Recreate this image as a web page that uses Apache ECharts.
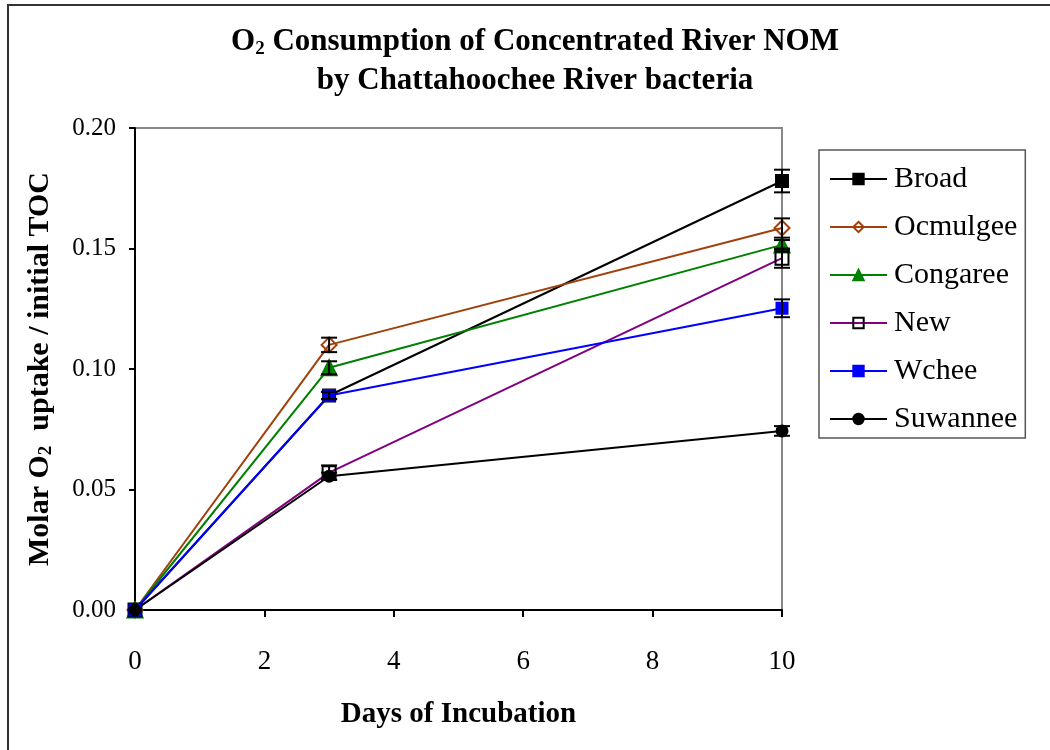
<!DOCTYPE html>
<html><head><meta charset="utf-8">
<script src="https://cdn.jsdelivr.net/npm/echarts@6/dist/echarts.min.js"></script>
<style>html,body{margin:0;padding:0;background:#fff}#c{width:1050px;height:750px}</style>
</head><body><div id="c"></div>
<script>
const days = [0, 3, 10];
const seriesNames = ['Broad', 'Ocmulgee', 'Congaree', 'New', 'Wchee', 'Suwannee'];
const broad    = [0, 0.089, 0.178];
const ocmulgee = [0, 0.110, 0.1585];
const congaree = [0, 0.1005, 0.1515];
const newR     = [0, 0.057, 0.146];
const wchee    = [0, 0.089, 0.1252];
const suwannee = [0, 0.0555, 0.0743];
const broadErr    = [0, 0.0015, 0.0047];
const ocmulgeeErr = [0, 0.0030, 0.0040];
const congareeErr = [0, 0.0027, 0.0020];
const newErr      = [0, 0.0030, 0.0040];
const wcheeErr    = [0, 0.0015, 0.0037];
const suwanneeErr = [0, 0.0015, 0.0020];
const yTicks = ['0.00', '0.05', '0.10', '0.15', '0.20'];
const xTicks = ['0', '2', '4', '6', '8', '10'];

const values = [broad, ocmulgee, congaree, newR, wchee, suwannee];
const errs = [broadErr, ocmulgeeErr, congareeErr, newErr, wcheeErr, suwanneeErr];
const styles = [
  {line:'#000000', symbol:'rect', size:12, fill:'#000000', border:'#000000'},
  {line:'#A0400A', symbol:'diamond', size:15, fill:'rgba(255,255,255,0)', border:'#A0400A'},
  {line:'#008000', symbol:'triangle', size:15, fill:'#008000', border:'#008000'},
  {line:'#800080', symbol:'rect', size:13, fill:'rgba(255,255,255,0)', border:'#000000'},
  {line:'#0000FF', symbol:'rect', size:11, fill:'#0000FF', border:'#0000FF'},
  {line:'#000000', symbol:'circle', size:11, fill:'#000000', border:'#000000'}
];
const serif = "'Liberation Serif', 'DejaVu Serif', serif";

const series = [];
seriesNames.forEach((n, i) => {
  const st = styles[i];
  series.push({
    name: n, type: 'line', z: 3,
    data: days.map((d, k) => [d, values[i][k]]),
    symbol: st.symbol, symbolSize: st.size,
    lineStyle: {color: st.line, width: 2},
    itemStyle: {color: st.fill, borderColor: st.border, borderWidth: 2},
    emphasis: {disabled: true}
  });
});
seriesNames.forEach((n, i) => {
  series.push({
    type: 'custom', z: 4, silent: true,
    data: days.map((d, k) => [d, values[i][k], errs[i][k]]),
    renderItem: function (params, api) {
      const x = api.value(0), y = api.value(1), e = api.value(2);
      if (!e) return null;
      const top = api.coord([x, y + e]);
      const bot = api.coord([x, y - e]);
      const hw = 8;
      const s = {stroke: '#000', lineWidth: 2};
      return {type: 'group', children: [
        {type: 'line', shape: {x1: top[0], y1: top[1], x2: bot[0], y2: bot[1]}, style: s},
        {type: 'line', shape: {x1: top[0]-hw, y1: top[1], x2: top[0]+hw, y2: top[1]}, style: s},
        {type: 'line', shape: {x1: bot[0]-hw, y1: bot[1], x2: bot[0]+hw, y2: bot[1]}, style: s}
      ]};
    }
  });
});

const chart = echarts.init(document.getElementById('c'), null, {renderer: 'canvas'});
chart.setOption({
  animation: false,
  backgroundColor: '#fff',
  grid: {left: 135, top: 128, right: 268, bottom: 140, show: true, borderColor: '#888', borderWidth: 2, backgroundColor: '#fff'},
  graphic: [
    {type: 'rect', shape: {x: 8, y: 5, width: 1046, height: 750}, style: {fill: 'none', stroke: '#333', lineWidth: 2}, z: 100},
    {type: 'text', x: 535, y: 42, style: {
      text: '{a|O}{s|2}{a| Consumption of Concentrated River NOM}',
      align: 'center', verticalAlign: 'middle',
      rich: {a: {fontFamily: serif, fontWeight: 'bold', fontSize: 31, fill: '#000'},
             s: {fontFamily: serif, fontWeight: 'bold', fontSize: 19, fill: '#000', padding: [15, 0, 0, 0]}}
    }},
    {type: 'text', x: 535, y: 81, style: {
      text: 'by Chattahoochee River bacteria', align: 'center', verticalAlign: 'middle',
      font: "bold 31px " + serif, fill: '#000'
    }}
  ],
  legend: {
    orient: 'vertical', left: 819, top: 150, width: 205,
    padding: [14, 8, 4, 10],
    borderColor: '#555', borderWidth: 1.5,
    itemWidth: 57, itemHeight: 13, itemGap: 18,
    data: seriesNames,
    textStyle: {fontFamily: serif, fontSize: 30, color: '#000', padding: [0, 0, 0, 2]}
  },
  xAxis: {
    type: 'value', min: 0, max: 10, interval: 2,
    name: 'Days of Incubation', nameLocation: 'middle', nameGap: 90,
    nameTextStyle: {fontFamily: serif, fontWeight: 'bold', fontSize: 29, color: '#000'},
    axisLine: {lineStyle: {color: '#000', width: 2}},
    axisTick: {show: true, length: 7, lineStyle: {color: '#000', width: 2}},
    axisLabel: {fontFamily: serif, fontSize: 27, color: '#000', margin: 38, formatter: (v) => xTicks[v/2]},
    splitLine: {show: false}
  },
  yAxis: {
    type: 'value', min: 0, max: 0.2, interval: 0.05,
    name: '{b|Molar O}{s|2}{b|  uptake / initial TOC}', nameLocation: 'middle', nameGap: 79, nameRotate: 90,
    nameTextStyle: {rich: {
      b: {fontFamily: serif, fontWeight: 'bold', fontSize: 30, color: '#000'},
      s: {fontFamily: serif, fontWeight: 'bold', fontSize: 19, color: '#000', padding: [13, 0, 0, 0]}
    }},
    axisLine: {show: true, lineStyle: {color: '#000', width: 2}},
    axisTick: {show: true, length: 6, lineStyle: {color: '#000', width: 2}},
    axisLabel: {fontFamily: serif, fontSize: 25, color: '#000', margin: 19, formatter: (v) => yTicks[Math.round(v/0.05)]},
    splitLine: {show: false}
  },
  series: series
});
</script></body></html>
